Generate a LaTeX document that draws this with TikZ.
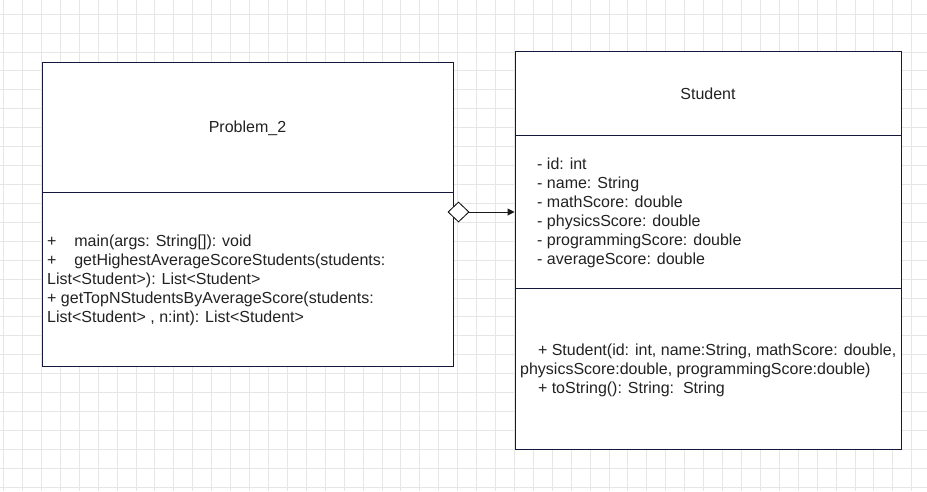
\documentclass[tikz,border=0pt]{standalone}
\usepackage{fontspec}
\setmainfont{Liberation Sans}
\usepackage{tikz}
\usetikzlibrary{arrows.meta}
\usetikzlibrary{shapes.geometric}
\usetikzlibrary{positioning}
\definecolor{umlline}{RGB}{20,24,60}
\definecolor{umltext}{RGB}{34,34,34}
\definecolor{gridgray}{RGB}{230,230,230}
\newcommand{\ind}{\hspace*{17.8pt}}
\begin{document}
\begin{tikzpicture}[x=1pt, y=-1pt, box/.style={rectangle, draw=umlline, line width=1pt, fill=white, inner sep=0pt}, label/.style={text=umltext, inner sep=0pt, font=\fontsize{16pt}{19pt}\selectfont, align=left}, arrow/.style={line width=1pt, draw=black!90, -{Triangle[length=7pt, width=7pt]}}]
\useasboundingbox (0,0) rectangle (927,491);
\fill [white] (0,0) rectangle (927,491);
\foreach \gx in {3.6, 22.52, ..., 927} \draw [gridgray, line width=1pt] (\gx,0) -- (\gx,491);
\foreach \gy in {14.2, 33.12, ..., 491} \draw [gridgray, line width=1pt] (0,\gy) -- (927,\gy);
% Problem_2 class
\node (PROBHEAD) [box, minimum width=411pt, minimum height=130pt] at (247.5,127) {};
\node (PROBOPS) [box, minimum width=411pt, minimum height=174pt] at (247.5,279) {};
% Student class
\node (STUHEAD) [box, minimum width=386pt, minimum height=84pt] at (708,93) {};
\node (STUATTR) [box, minimum width=386pt, minimum height=153pt] at (708,211.5) {};
\node (STUOPS) [box, minimum width=386pt, minimum height=161pt] at (708,368.5) {};
\node (PROBNAME) [label, anchor=center] at ([yshift=-1pt]PROBHEAD.center) {Problem\_2};
\node (PROBLIST) [label, anchor=west] at (47,280.5) {+\ind main(args: String[]): void\\+\ind getHighestAverageScoreStudents(students:\\List<Student>): List<Student>\\+ getTopNStudentsByAverageScore(students:\\List<Student> , n:int): List<Student>};
\node (STUNAME) [label, anchor=center] at ([yshift=-1pt]STUHEAD.center) {Student};
\node (STUFIELDS) [label, anchor=west] at (537,213) {- id: int\\- name: String\\- mathScore: double\\- physicsScore: double\\- programmingScore: double\\- averageScore: double};
\node (STULIST) [label, anchor=west] at (520,370) {\ind + Student(id: int, name:String, mathScore: double,\\physicsScore:double, programmingScore:double)\\\ind + toString(): String:\ \ String};
% aggregation
\node (AGG) [draw=black, line width=0.8pt, fill=white, diamond, minimum width=21pt, minimum height=20pt, inner sep=0pt] at (458.5,212) {};
\draw [arrow] (AGG.east) -- (AGG.east -| STUATTR.west);
\end{tikzpicture}
\end{document}
